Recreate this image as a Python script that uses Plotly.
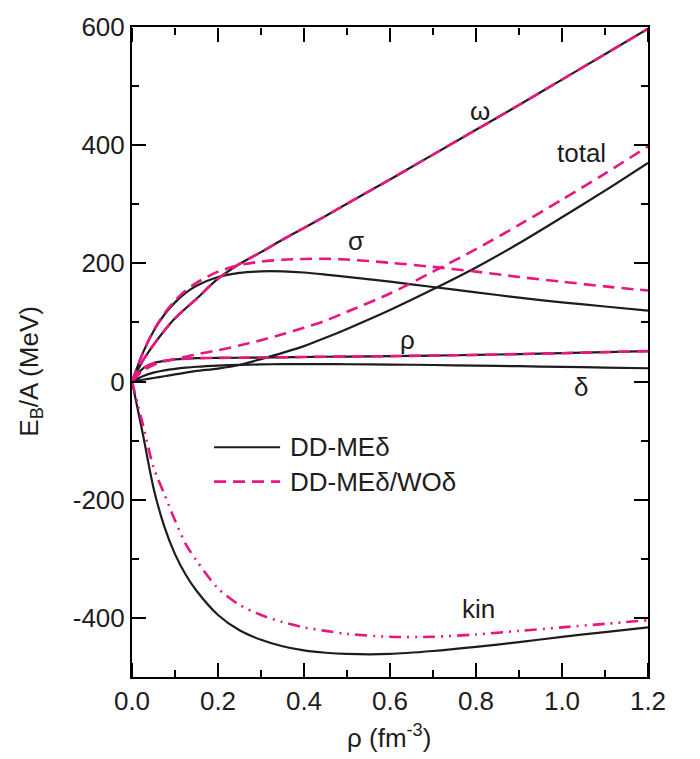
import plotly.graph_objects as go

# ---------------- data ----------------
rho = [0, 0.025, 0.05, 0.075, 0.1, 0.125, 0.15, 0.2, 0.25, 0.3, 0.35, 0.4,
       0.45, 0.5, 0.6, 0.7, 0.8, 0.9, 1.0, 1.1, 1.2]

# DD-MEdelta (solid black)
omega_dd = [0, 35, 62, 86, 107, 124, 140, 174, 199, 219, 240, 260, 280, 301,
            342, 384, 426, 468, 511, 554, 597]
sigma_dd = [0, 48, 85, 113, 134, 150, 162, 177, 184, 186.5, 186.5, 184.5, 181,
            177, 169, 160, 151, 142, 134, 127, 120]
total_dd = [0, 3, 6, 9, 12, 15, 18, 22, 28, 38, 48.5, 60, 74, 89, 121, 156, 193,
            234, 278, 323, 370]
rhom_dd = [0, 22, 31, 35, 37.5, 38.8, 39.5, 40, 40.3, 40.6, 41, 41.5, 42, 42.3,
           43, 44, 45, 46.5, 48, 49.8, 51.5]
delta_dd = [0, 9, 15, 19, 21.5, 23.5, 25, 27, 28.3, 29, 29.5, 29.6, 29.5, 29.3,
            28.8, 28, 27, 26, 24.8, 23.7, 22.5]
kin_dd = [0, -88, -180, -245, -292, -327, -354, -395, -421, -437, -448, -455,
          -459, -461, -461, -456, -449, -441, -432, -424, -416]

# DD-MEdelta/WOdelta (dashed magenta)
omega_wo = [0, 35, 62, 86, 107, 124, 140, 174, 199, 219, 240, 260, 280, 301,
            342, 384, 426, 468, 511, 554, 597]
sigma_wo = [0, 48, 86, 115, 137, 154, 167, 186, 197, 203, 206, 207.5, 207.8,
            206.5, 201, 194, 186, 177, 169, 161, 154]
total_wo = [0, 18, 28, 34, 38, 42, 46, 53, 61, 70, 80, 91, 103, 118, 149, 186,
            224, 265, 308, 352, 398]
rhom_wo = [0, 22, 31, 35, 37.5, 38.8, 39.5, 40, 40.3, 40.6, 41, 41.5, 42, 42.3,
           43, 44, 45, 46.5, 48, 49.8, 51.5]
kin_wo = [0, -72, -145, -190, -235, -275, -303, -350, -378, -395, -407, -416,
          -422, -427, -432, -432, -428, -422, -416, -410, -404]

y_tickvals = [-400, -200, 0, 200, 400, 600]
y_ticktext = ["-400", "-200", "0", "200", "400", "600"]

series_labels = ["ω", "total", "σ", "ρ", "δ", "kin"]
label_x = [0.809, 1.046, 0.521, 0.64, 1.044, 0.805]
label_y = [458, 386, 238, 70, -10, -385]

legend_names = ["DD-MEδ", "DD-MEδ/WOδ"]

X_RANGE = [0, 1.2]
Y_RANGE = [-500, 600]

# ---------------- style ----------------
BLACK = "#1e1c1d"
PINK = "#E8177F"
FONT = "Liberation Sans, Arial, Helvetica, sans-serif"
FS = 26
DASH = "12px,7px"
DASHDOTDOT = "12px,6px,2px,6px,2px,6px"

fig = go.Figure()

# empty traces that activate the tick-only overlay axes
for xa, ya in [("x2", "y"), ("x3", "y"), ("x4", "y"), ("x5", "y"),
               ("x", "y2")]:
    fig.add_trace(go.Scatter(x=[None], y=[None], xaxis=xa, yaxis=ya,
                             mode="lines", showlegend=False, hoverinfo="skip"))

for y in [omega_dd, sigma_dd, total_dd, rhom_dd, delta_dd, kin_dd]:
    fig.add_trace(go.Scatter(x=rho, y=y, mode="lines", showlegend=False,
                             line=dict(color=BLACK, width=2.2, shape="spline",
                                       smoothing=0.8)))
for y in [omega_wo, sigma_wo, total_wo, rhom_wo]:
    fig.add_trace(go.Scatter(x=rho, y=y, mode="lines", showlegend=False,
                             line=dict(color=PINK, width=2.6, dash=DASH,
                                       shape="spline", smoothing=0.8)))
fig.add_trace(go.Scatter(x=rho, y=kin_wo, mode="lines", showlegend=False,
                         line=dict(color=PINK, width=2.6, dash=DASHDOTDOT,
                                   shape="spline", smoothing=0.8)))

for t, xx, yy in zip(series_labels, label_x, label_y):
    fig.add_annotation(x=xx, y=yy, xref="x", yref="y", text=t, showarrow=False,
                       font=dict(family=FONT, size=FS, color=BLACK),
                       xanchor="center", yanchor="middle")

# manual legend
leg_y = [0.3535, 0.3006]
leg_colors = [BLACK, PINK]
leg_dash = ["solid", DASH]
leg_w = [2.2, 2.6]
for name, ly, c, d, w in zip(legend_names, leg_y, leg_colors, leg_dash, leg_w):
    fig.add_shape(type="line", xref="paper", yref="paper", x0=0.159, x1=0.287,
                  y0=ly, y1=ly, opacity=1, line=dict(color=c, width=w, dash=d))
    fig.add_annotation(xref="paper", yref="paper", x=0.302, y=ly, text=name,
                       showarrow=False, xanchor="left", yanchor="middle",
                       font=dict(family=FONT, size=FS, color=BLACK))

# axis titles
fig.add_annotation(xref="paper", yref="paper", x=0.498, y=-0.092,
                   text="ρ (fm<sup>-3</sup>)", showarrow=False,
                   xanchor="center", yanchor="middle",
                   font=dict(family=FONT, size=FS, color=BLACK))
fig.add_annotation(xref="paper", yref="paper", x=-0.196, y=0.471,
                   text="E<sub>B</sub>/A (MeV)", showarrow=False, textangle=-90,
                   xanchor="center", yanchor="middle",
                   font=dict(family=FONT, size=FS, color=BLACK))

tick_only = dict(showline=False, showgrid=False, zeroline=False,
                 showticklabels=False, ticks="outside", tickwidth=2,
                 tickcolor="black", tickmode="linear", tick0=0,
                 range=X_RANGE, overlaying="x", anchor="free")

fig.update_layout(
    template="simple_white", width=700, height=759,
    margin=dict(l=132, r=52, t=15, b=82),
    plot_bgcolor="white", paper_bgcolor="white",
    font=dict(family=FONT, size=FS, color=BLACK),
    xaxis=dict(range=X_RANGE, tickmode="linear", tick0=0, dtick=0.2,
               tickformat=".1f", showline=True, linecolor="black",
               linewidth=2, mirror=True, ticks="", showgrid=False,
               zeroline=False,
               tickfont=dict(family=FONT, size=FS, color=BLACK)),
    yaxis=dict(range=Y_RANGE, tickmode="array", tickvals=y_tickvals,
               ticktext=y_ticktext, showline=True, linecolor="black",
               linewidth=2, mirror="ticks", ticks="inside", ticklen=14,
               tickwidth=2, tickcolor="black", showgrid=False,
               zeroline=False,
               tickfont=dict(family=FONT, size=FS, color=BLACK)),
    # major ticks pointing up from the bottom edge / down from the top edge
    xaxis2=dict(side="top", position=0, dtick=0.2, ticklen=14, **tick_only),
    xaxis3=dict(side="bottom", position=1, dtick=0.2, ticklen=14, **tick_only),
    # minor ticks
    xaxis4=dict(side="top", position=0, dtick=0.1, ticklen=7, **tick_only),
    xaxis5=dict(side="bottom", position=1, dtick=0.1, ticklen=7, **tick_only),
    yaxis2=dict(range=Y_RANGE, overlaying="y", anchor="x", side="left",
                tickmode="linear", tick0=0, dtick=100, ticks="inside",
                ticklen=7, tickwidth=2, tickcolor="black", mirror="ticks",
                showline=False, showgrid=False, zeroline=False,
                showticklabels=False),
)

fig.write_html("out.html")
